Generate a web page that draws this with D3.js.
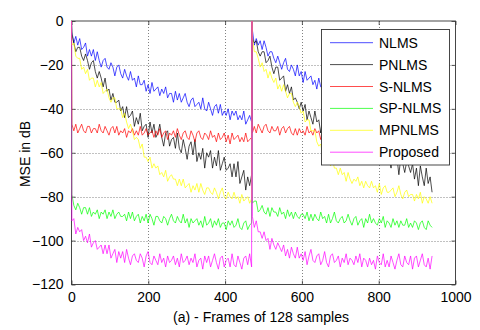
<!DOCTYPE html>
<html>
<head>
<meta charset="utf-8">
<script src="https://cdn.jsdelivr.net/npm/d3@7"></script>
<style>
  body { margin: 0; background: #fff; }
  text { font-family: Arial, "Liberation Sans", Helvetica, sans-serif; }
</style>
</head>
<body>
<div id="chart"></div>
<script>
// MSE (dB), two runs of the same experiment. first value of a run is the
// starting error (0 dB), the rest are read about every 5 frames.
const runLength = 469;
const restartFrame = 470;

const nlmsRun1 = [0,-5,-10,-7,-11,-8,-13,-12,-10,-16, -13,-16,-13,-18,-14,-18,-21,-18,-17,-21,
  -22,-19,-21,-25,-21,-20,-24,-26,-22,-25, -27,-23,-27,-26,-30,-25,-29,-29,-27,-32,
  -29,-33,-28,-32,-31,-30,-34,-31,-33,-30, -35,-33,-33,-37,-32,-36,-33,-37,-35,-33,
  -37,-39,-36,-35,-39,-38,-37,-40,-35,-40, -41,-37,-40,-43,-39,-38,-42,-38,-43,-41,
  -43,-40,-45,-41,-43,-41,-45,-43,-45,-41, -47,-45,-43,-46];
const nlmsRun2 = [0,-4,-11,-8,-11,-9,-13,-9,-12,-16, -14,-14,-17,-19,-16,-19,-22,-19,-17,-22,
  -23,-20,-22,-25,-20,-25,-23,-28,-23,-27, -26,-25,-29,-27,-31,-26,-30,-30,-28,-33,
  -30,-32,-29,-34,-32,-32,-36,-31,-34,-32, -36,-34,-32,-36,-38,-35,-34,-38,-36,-36,
  -39,-34,-39,-40,-36,-39,-42,-38,-37,-41, -37,-42,-41,-42,-39,-44,-41,-42,-40,-44,
  -42,-44,-40,-45,-44,-42,-45,-45,-44,-47, -44,-47,-43,-48];

const pnlmsRun1 = [0,-6,-10,-14,-12,-12,-16,-18,-15,-18, -22,-19,-18,-23,-26,-23,-26,-30,-26,-32,
  -31,-36,-33,-37,-37,-36,-41,-39,-44,-39, -44,-43,-41,-48,-44,-47,-42,-50,-48,-47,
  -53,-46,-51,-47,-53,-51,-47,-53,-57,-51, -50,-57,-54,-53,-58,-51,-58,-60,-54,-58,
  -63,-57,-55,-61,-54,-64,-60,-63,-58,-67, -60,-62,-59,-67,-62,-66,-59,-68,-65,-62,
  -68,-67,-65,-71,-65,-71,-64,-74,-71,-68, -77,-71,-75,-70];
const pnlmsRun2 = [0,-8,-10,-9,-14,-16,-14,-14,-19,-18, -16,-21,-24,-21,-21,-27,-26,-25,-32,-29,
  -33,-30,-36,-35,-37,-40,-37,-41,-38,-45, -41,-44,-47,-41,-46,-45,-51,-44,-47,-49,
  -44,-52,-48,-53,-48,-51,-55,-50,-47,-54, -56,-50,-54,-56,-52,-60,-54,-53,-60,-57,
  -53,-60,-63,-57,-65,-56,-61,-59,-64,-56, -64,-63,-67,-59,-65,-62,-70,-62,-65,-69,
  -64,-66,-69,-65,-72,-67,-75,-66,-71,-75, -67,-74,-71,-78];

const snlmsRun1 = [0,-47,-50,-47,-51,-49,-47,-50,-51,-48, -48,-51,-49,-49,-51,-47,-50,-51,-48,-50,
  -52,-49,-48,-51,-48,-52,-50,-51,-49,-53, -50,-51,-49,-52,-50,-52,-48,-52,-51,-49,
  -52,-51,-50,-53,-50,-52,-49,-53,-51,-50, -54,-51,-52,-50,-53,-49,-52,-54,-51,-50,
  -53,-54,-50,-52,-55,-51,-50,-53,-54,-51, -52,-54,-50,-53,-52,-55,-51,-54,-53,-51,
  -55,-52,-56,-51,-54,-53,-52,-55,-53,-55, -51,-55,-54,-53];
const snlmsRun2 = [0,-51,-48,-51,-47,-49,-51,-48,-47,-50, -51,-48,-50,-50,-48,-52,-49,-48,-51,-49,
  -48,-51,-52,-49,-52,-49,-51,-50,-52,-48, -51,-50,-52,-49,-51,-50,-54,-50,-51,-53,
  -50,-51,-52,-49,-52,-50,-54,-50,-52,-53, -49,-52,-51,-53,-50,-54,-52,-50,-53,-54,
  -51,-50,-54,-52,-49,-53,-55,-52,-51,-54, -53,-51,-55,-52,-53,-50,-55,-52,-53,-55,
  -51,-54,-50,-55,-53,-54,-55,-52,-54,-52, -56,-53,-54,-55];

const spnlmsRun1 = [0,-79,-84,-86,-83,-85,-88,-85,-85,-88, -85,-89,-87,-88,-86,-90,-87,-88,-86,-90,
  -87,-89,-86,-90,-88,-87,-89,-89,-88,-91, -87,-90,-87,-91,-89,-88,-92,-89,-91,-88,
  -92,-88,-90,-93,-89,-89,-91,-92,-89,-90, -93,-90,-88,-91,-92,-89,-91,-92,-88,-92,
  -90,-94,-90,-92,-91,-90,-93,-91,-94,-89, -93,-92,-90,-94,-91,-93,-90,-94,-92,-92,
  -95,-91,-93,-91,-94,-93,-90,-94,-95,-92, -91,-95,-93,-92];
const spnlmsRun2 = [0,-83,-82,-82,-87,-86,-84,-87,-88,-85, -89,-85,-87,-87,-89,-85,-88,-87,-90,-86,
  -89,-87,-90,-87,-89,-90,-88,-88,-90,-87, -91,-88,-91,-88,-90,-91,-87,-90,-89,-92,
  -88,-92,-90,-87,-91,-92,-90,-89,-92,-91, -88,-91,-93,-90,-89,-93,-91,-90,-94,-90,
  -92,-88,-92,-90,-92,-93,-90,-92,-89,-94, -91,-92,-94,-90,-93,-91,-94,-91,-93,-93,
  -90,-94,-92,-94,-91,-92,-95,-92,-91,-94, -95,-91,-93,-94];

const mpnlmsRun1 = [0,-11,-10,-16,-17,-17,-22,-21,-24,-22, -27,-26,-26,-30,-27,-30,-28,-33,-32,-31,
  -35,-37,-35,-35,-40,-40,-40,-44,-42,-46, -49,-47,-50,-54,-53,-54,-58,-56,-62,-62,
  -64,-62,-67,-65,-67,-66,-70,-69,-71,-68, -73,-71,-70,-72,-72,-75,-72,-75,-72,-76,
  -75,-74,-78,-75,-77,-74,-78,-74,-77,-79, -76,-76,-78,-79,-76,-78,-81,-78,-76,-80,
  -81,-78,-80,-81,-78,-81,-80,-83,-79,-82, -81,-80,-83,-81];
const mpnlmsRun2 = [0,-7,-14,-14,-17,-21,-19,-23,-22,-26, -23,-26,-28,-26,-31,-29,-32,-29,-32,-35,
  -33,-33,-37,-39,-37,-39,-42,-41,-46,-45, -45,-50,-50,-50,-55,-57,-56,-61,-58,-61,
  -62,-66,-63,-67,-67,-70,-67,-70,-69,-73, -69,-72,-74,-72,-73,-71,-75,-73,-76,-73,
  -75,-76,-73,-76,-75,-78,-74,-79,-76,-75, -78,-78,-77,-76,-80,-78,-75,-79,-81,-78,
  -77,-80,-79,-79,-82,-79,-81,-78,-83,-80, -81,-83,-80,-83];

const proposedRun1 = [0,-91,-90,-97,-94,-96,-95,-100,-98,-101, -97,-103,-101,-100,-104,-103,-102,-106,-102,-106,
  -102,-108,-106,-104,-110,-105,-108,-105,-110,-104, -108,-111,-107,-106,-109,-110,-106,-108,-112,-107,
  -105,-110,-111,-107,-109,-111,-106,-110,-108,-112, -107,-110,-109,-107,-111,-108,-112,-106,-110,-109,
  -107,-111,-108,-110,-106,-112,-109,-108,-113,-107, -110,-107,-112,-109,-106,-110,-113,-108,-107,-112,
  -109,-108,-112,-106,-111,-112,-107,-110,-113,-108, -107,-111,-106,-112];
const proposedRun2 = [0,-89,-94,-91,-96,-96,-99,-96,-100,-99, -104,-99,-102,-104,-101,-103,-105,-102,-107,-104,
  -108,-103,-106,-108,-103,-108,-106,-109,-105,-111, -107,-104,-109,-110,-107,-106,-111,-109,-105,-110,
  -112,-107,-106,-110,-109,-107,-112,-108,-110,-106, -111,-108,-109,-111,-107,-110,-106,-112,-108,-109,
  -112,-108,-111,-109,-113,-107,-110,-111,-106,-112, -109,-112,-107,-110,-113,-109,-106,-111,-112,-107,
  -110,-111,-107,-113,-108,-107,-112,-109,-106,-111, -112,-108,-113,-107];

const seriesNames = ["NLMS", "PNLMS", "S-NLMS", "SP-NLMS", "MPNLMS", "Proposed"];
const seriesColors = ["#0000ff", "#000000", "#ff0000", "#00ff00", "#ffff00", "#ff00ff"];
const runs = [
  [nlmsRun1, nlmsRun2],
  [pnlmsRun1, pnlmsRun2],
  [snlmsRun1, snlmsRun2],
  [spnlmsRun1, spnlmsRun2],
  [mpnlmsRun1, mpnlmsRun2],
  [proposedRun1, proposedRun2]
];

const xTicks = [0, 200, 400, 600, 800, 1000];
const yTicks = [-120, -100, -80, -60, -40, -20, 0];

const width = 480, height = 330;
const plotLeft = 71.5, plotRight = 455.5, plotTop = 21, plotBottom = 284.5;

const svg = d3.select("#chart").append("svg")
  .attr("width", width)
  .attr("height", height);

const x = d3.scaleLinear().domain([0, 1000]).range([plotLeft, plotRight]);
const y = d3.scaleLinear().domain([-120, 0]).range([plotBottom, plotTop]);

// grid
const grid = svg.append("g")
  .attr("stroke", "#000")
  .attr("stroke-opacity", 0.7)
  .attr("stroke-width", 0.7)
  .attr("stroke-dasharray", "1,2");

grid.selectAll(".gx")
  .data(xTicks.slice(1, -1))
  .enter()
  .append("line")
  .attr("x1", d => Math.round(x(d)) + 0.5)
  .attr("x2", d => Math.round(x(d)) + 0.5)
  .attr("y1", plotTop)
  .attr("y2", plotBottom);

grid.selectAll(".gy")
  .data(yTicks.slice(1, -1))
  .enter()
  .append("line")
  .attr("y1", d => Math.round(y(d)) + 0.5)
  .attr("y2", d => Math.round(y(d)) + 0.5)
  .attr("x1", plotLeft)
  .attr("x2", plotRight);

// axes, matlab style ticks pointing inward
const fontSize = "14px";

svg.append("g")
  .attr("transform", `translate(0,${plotBottom})`)
  .call(d3.axisBottom(x).tickValues(xTicks).tickFormat(d3.format("d")).tickSize(-4).tickPadding(8));

svg.append("g")
  .attr("transform", `translate(0,${plotTop})`)
  .call(d3.axisTop(x).tickValues(xTicks).tickSize(-4).tickFormat(""));

svg.append("g")
  .attr("transform", `translate(${plotLeft},0)`)
  .call(d3.axisLeft(y).tickValues(yTicks).tickFormat(d3.format("d")).tickSize(-4).tickPadding(8));

svg.append("g")
  .attr("transform", `translate(${plotRight},0)`)
  .call(d3.axisRight(y).tickValues(yTicks).tickSize(-4).tickFormat(""));

svg.selectAll(".domain").remove();
svg.selectAll(".tick line").attr("stroke", "#333").attr("stroke-width", 0.8);
svg.selectAll(".tick text")
  .attr("fill", "#000")
  .style("font-size", fontSize)
  .style("font-family", 'Arial, "Liberation Sans", Helvetica, sans-serif');

svg.append("rect")
  .attr("x", plotLeft)
  .attr("y", plotTop)
  .attr("width", plotRight - plotLeft)
  .attr("height", plotBottom - plotTop)
  .attr("fill", "none")
  .attr("stroke", "#333")
  .attr("stroke-width", 0.9);

// lines
svg.append("clipPath")
  .attr("id", "plotArea")
  .append("rect")
  .attr("x", plotLeft - 1)
  .attr("y", plotTop - 1)
  .attr("width", plotRight - plotLeft + 2)
  .attr("height", plotBottom - plotTop + 2);

const line = d3.line()
  .x(d => x(d.frame))
  .y(d => y(d.mse));

// frame of a sample: the start error sits on the run start, the readings follow from the next frame
const runFrames = (run, start) => run.map((v, i) => ({
  frame: i === 0 ? start : start + 1 + (i - 1) * (runLength - 1) / (run.length - 2),
  mse: v
}));

const seriesData = runs.map(([run1, run2]) =>
  runFrames(run1, 0).concat(runFrames(run2, restartFrame))
);

svg.append("g")
  .attr("clip-path", "url(#plotArea)")
  .selectAll("path")
  .data(seriesData)
  .enter()
  .append("path")
  .attr("d", line)
  .attr("fill", "none")
  .attr("stroke", (d, i) => seriesColors[i])
  .attr("stroke-width", 0.7)
  .attr("stroke-linejoin", "round");

// axis labels
svg.append("text")
  .attr("x", 261)
  .attr("y", 322)
  .attr("text-anchor", "middle")
  .style("font-size", fontSize)
  .text("(a) - Frames of 128 samples");

svg.append("text")
  .attr("transform", "translate(29.5,154) rotate(-90)")
  .attr("text-anchor", "middle")
  .style("font-size", fontSize)
  .text("MSE in dB");

// legend
const legend = svg.append("g");

legend.append("rect")
  .attr("x", 321.5)
  .attr("y", 29.5)
  .attr("width", 128)
  .attr("height", 135.5)
  .attr("fill", "#fff")
  .attr("stroke", "#333")
  .attr("stroke-width", 0.9);

const legendItems = legend.selectAll(".legend")
  .data(seriesNames)
  .enter()
  .append("g")
  .attr("class", "legend")
  .attr("transform", (d, i) => `translate(330, ${42.7 + i * 21.9})`);

legendItems.append("line")
  .attr("x1", 0)
  .attr("x2", 43)
  .attr("y1", 0)
  .attr("y2", 0)
  .attr("stroke", (d, i) => seriesColors[i])
  .attr("stroke-width", 0.7);

legendItems.append("text")
  .attr("x", 49)
  .attr("y", 5)
  .style("font-size", fontSize)
  .text(d => d);
</script>
</body>
</html>
